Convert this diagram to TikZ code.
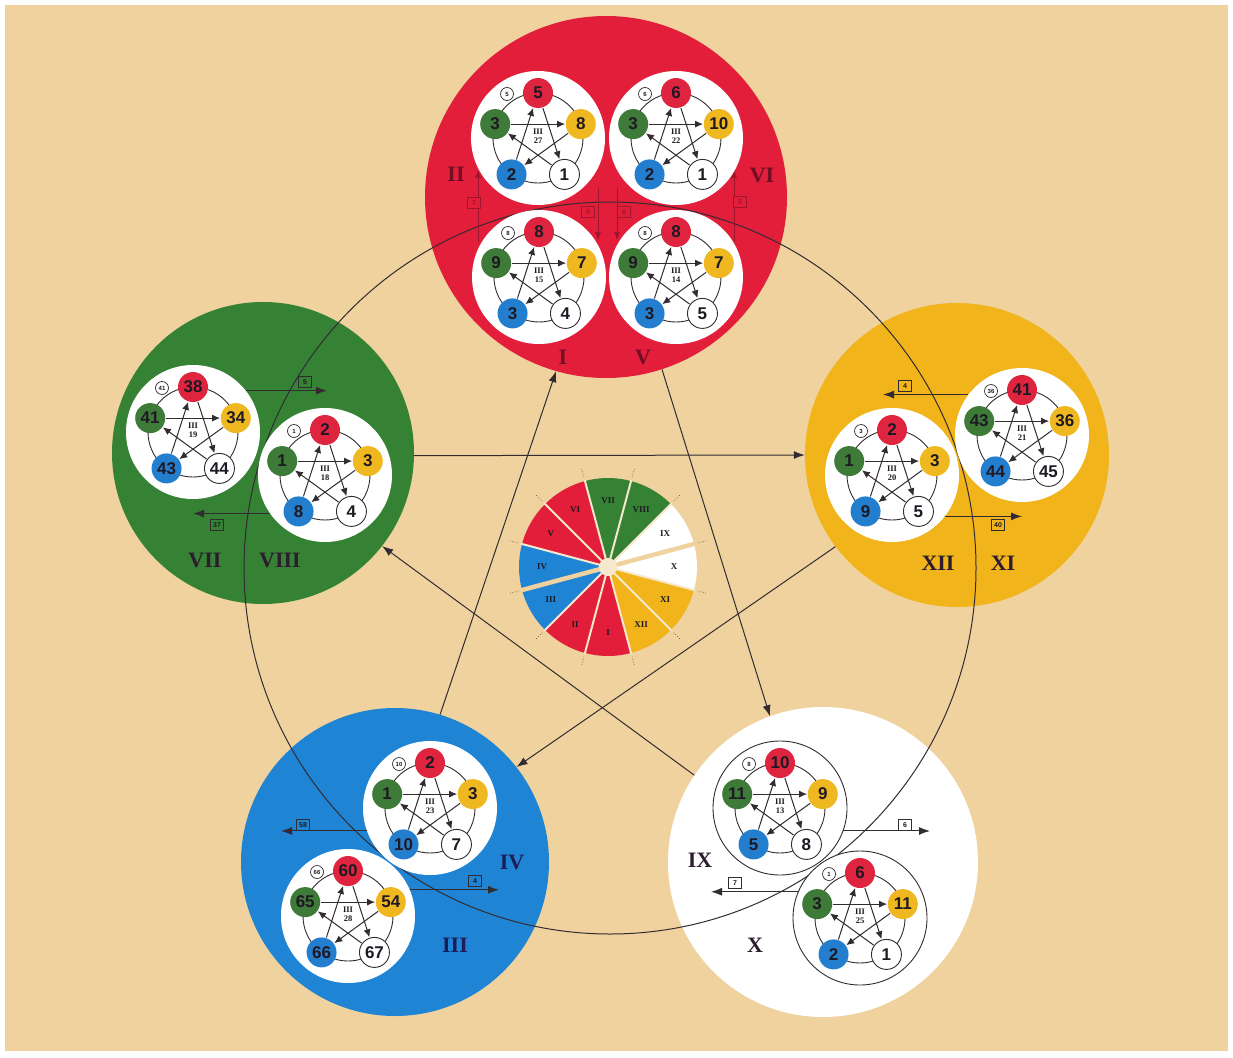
\documentclass[tikz,border=0pt]{standalone}
\usepackage{fontspec}
\setmainfont{Liberation Sans}
\newfontfamily\romanf{Liberation Serif}
\usetikzlibrary{arrows.meta,calc}

\definecolor{tanbg}{RGB}{239,210,158}
\definecolor{bigR}{RGB}{226,30,58}
\definecolor{bigG}{RGB}{54,130,52}
\definecolor{bigY}{RGB}{241,180,26}
\definecolor{bigB}{RGB}{32,132,212}
\definecolor{sR}{RGB}{222,36,62}
\definecolor{sG}{RGB}{62,122,56}
\definecolor{sY}{RGB}{240,184,32}
\definecolor{sB}{RGB}{36,126,206}
\definecolor{lineC}{RGB}{50,44,50}
\definecolor{txtC}{RGB}{30,25,35}
\definecolor{faintR}{RGB}{160,20,45}
\definecolor{romDark}{RGB}{45,28,45}
\definecolor{romRed}{RGB}{110,15,35}
\definecolor{romBlue}{RGB}{28,28,90}
\definecolor{pieSep}{RGB}{246,232,205}

\tikzset{
  disc/.style={circle, fill=white, minimum size=134pt, inner sep=0pt},
  ring/.style={draw=lineC, line width=0.9pt},
  pc/.style={circle, minimum size=30pt, inner sep=0pt, text=txtC,
    font=\fontsize{17}{17}\selectfont\bfseries},
  pcw/.style={pc, fill=white, draw=lineC, line width=0.9pt},
  sarr/.style={draw=lineC, line width=1pt, -{Latex[length=8pt,width=7pt]}, shorten >=0.5pt, shorten <=0.5pt},
  smallc/.style={circle, draw=lineC, line width=0.7pt, fill=white, minimum size=13pt,
    inner sep=0pt, text=txtC, font=\fontsize{6}{6}\selectfont\bfseries},
  midt/.style={font=\romanf\fontsize{8.5}{9}\selectfont\bfseries, align=center, text=txtC, inner sep=0pt},
  bigdisc/.style={circle, inner sep=0pt},
  bigarr/.style={draw=lineC, line width=1pt, -{Latex[length=11pt,width=8pt]}},
  boxlab/.style={draw=lineC, line width=0.6pt, font=\fontsize{7}{7}\selectfont\bfseries,
    text=txtC, minimum width=13pt, minimum height=11pt, inner sep=1pt},
  fboxlab/.style={boxlab, draw=faintR, text=faintR},
  faintarr/.style={draw=faintR, line width=0.6pt, -{Latex[length=8pt,width=6pt]}},
  romlab/.style={font=\romanf\bfseries\fontsize{22}{22}\selectfont, inner sep=0pt},
  pielab/.style={font=\romanf\bfseries\fontsize{9}{9}\selectfont, text=txtC, inner sep=0pt},
}

\newcommand{\subdiag}[9]{%
\begin{scope}[shift={(#2)}]
 \node[disc] (#1) at (0,0) {};
 \draw[ring] (0,0) circle (45);
 \node[pc,fill=sR] (#1r) at (-90:45) {#3};
 \node[pc,fill=sY] (#1y) at (-18:45) {#5};
 \node[pcw] (#1w) at (54:45) {#7};
 \node[pc,fill=sB] (#1b) at (126:45) {#6};
 \node[pc,fill=sG] (#1g) at (198:45) {#4};
 \draw[sarr] (#1g) -- (#1y);
 \draw[sarr] (#1y) -- (#1b);
 \draw[sarr] (#1b) -- (#1r);
 \draw[sarr] (#1r) -- (#1w);
 \draw[sarr] (#1w) -- (#1g);
 \node[smallc] (#1s) at (-31,-44) {#8};
 \node[midt] (#1t) at (0,-2) {III\\#9};
\end{scope}}

\begin{document}
\begin{tikzpicture}[x=1pt,y=-1pt]
\useasboundingbox (0,0) rectangle (1233,1057);
\fill[white] (0,0) rectangle (1233,1057);
\fill[tanbg] (5,5) rectangle (1228,1051);

% big discs
\node[bigdisc, fill=bigR, minimum size=362pt] (cirR) at (606,197) {};
\node[bigdisc, fill=bigG, minimum size=302pt] (cirG) at (263,453) {};
\node[bigdisc, fill=bigY, minimum size=304pt] (cirY) at (957,455) {};
\node[bigdisc, fill=bigB, minimum size=308pt] (cirB) at (395,862) {};
\node[bigdisc, fill=white, minimum size=310pt] (cirW) at (823,862) {};

% orbit circle
\node[circle, draw=lineC, line width=1pt, minimum size=732pt, inner sep=0pt] (orbit) at (610,568) {};

% pentagram connectors
\draw[bigarr] (cirB.73) -- (cirR.254);
\draw[bigarr] (cirR.288) -- (cirW.110);
\draw[bigarr] (cirW.146) -- (cirG.322);
\draw[bigarr] (cirG.359) -- (cirY.180);
\draw[bigarr] (cirY.217) -- (cirB.38);

% faint marks in red disc
\coordinate (rfA) at (478,170);
\coordinate (rfA0) at (478,242);
\draw[faintarr] (rfA0) -- (rfA);
\coordinate (rfB) at (734,170);
\coordinate (rfB0) at (734,242);
\draw[faintarr] (rfB0) -- (rfB);
\coordinate (rfC0) at (598,188);
\coordinate (rfC) at (598,240);
\draw[faintarr] (rfC0) -- (rfC);
\coordinate (rfD0) at (617,188);
\coordinate (rfD) at (617,240);
\draw[faintarr] (rfD0) -- (rfD);
\node[fboxlab, fill=bigR] (rfbA) at (474,203) {7};
\node[fboxlab, fill=bigR] (rfbB) at (740,202) {5};
\node[fboxlab, fill=bigR] (rfbC) at (588,212) {5};
\node[fboxlab, fill=bigR] (rfbD) at (624,212) {6};

% inner diagrams
\subdiag{rTL}{538,138}{5}{3}{8}{2}{1}{5}{27}
\subdiag{rTR}{676,138}{6}{3}{10}{2}{1}{6}{22}
\subdiag{rBL}{539,277}{8}{9}{7}{3}{4}{8}{15}
\subdiag{rBR}{676,277}{8}{9}{7}{3}{5}{8}{14}
\subdiag{gUL}{193,432}{38}{41}{34}{43}{44}{41}{19}
\subdiag{gR}{325,475}{2}{1}{3}{8}{4}{1}{18}
\subdiag{yL}{892,475}{2}{1}{3}{9}{5}{3}{20}
\subdiag{yUR}{1022,435}{41}{43}{36}{44}{45}{36}{21}
\subdiag{bU}{430,808}{2}{1}{3}{10}{7}{10}{23}
\subdiag{bL}{348,916}{60}{65}{54}{66}{67}{66}{28}
\subdiag{wU}{780,808}{10}{11}{9}{5}{8}{8}{13}
\subdiag{wL}{860,918}{6}{3}{11}{2}{1}{1}{25}
\draw[lineC, line width=0.9pt] (wU.center) circle (67);
\draw[lineC, line width=0.9pt] (wL.center) circle (67);

% small labelled arrows (horizontal)
\coordinate (gA1) at (327,391);
\draw[bigarr] (gUL.38) -- (gA1 |- gUL.38);
\node[boxlab] (gBx1) at (305,382) {5};
\coordinate (gA2) at (193,515);
\draw[bigarr] (gR.215) -- (gA2 |- gR.215);
\node[boxlab] (gBx2) at (217,525) {37};
\coordinate (yA1) at (883,392);
\draw[bigarr] (yUR.143) -- (yA1 |- yUR.143);
\node[boxlab] (yBx1) at (905,386) {4};
\coordinate (yA2) at (1022,517);
\draw[bigarr] (yL.322) -- (yA2 |- yL.322);
\node[boxlab] (yBx2) at (998,525) {40};
\coordinate (bA1) at (281,832);
\draw[bigarr] (bU.200) -- (bA1 |- bU.200);
\node[boxlab] (bBx1) at (303,825) {58};
\coordinate (bA2) at (499,887);
\draw[bigarr] (bL.23) -- (bA2 |- bL.23);
\node[boxlab] (bBx2) at (475,881) {4};
\coordinate (wA1) at (930,832);
\draw[bigarr] (wU.340) -- (wA1 |- wU.340);
\node[boxlab] (wBx1) at (905,825) {6};
\coordinate (wA2) at (711,890);
\draw[bigarr] (wL.157) -- (wA2 |- wL.157);
\node[boxlab] (wBx2) at (735,883) {7};

% roman labels
\node[romlab, text=romRed] (lII) at (456,174) {II};
\node[romlab, text=romRed] (lVI) at (762,175) {VI};
\node[romlab, text=romRed] (lI) at (563,357) {I};
\node[romlab, text=romRed] (lV) at (643,357) {V};
\node[romlab, text=romDark] (lVII) at (205,560) {VII};
\node[romlab, text=romDark] (lVIII) at (280,560) {VIII};
\node[romlab, text=romDark] (lXII) at (938,563) {XII};
\node[romlab, text=romDark] (lXI) at (1003,563) {XI};
\node[romlab, text=romBlue] (lIV) at (512,862) {IV};
\node[romlab, text=romBlue] (lIII) at (455,945) {III};
\node[romlab, text=romDark] (lIX) at (700,860) {IX};
\node[romlab, text=romDark] (lX) at (755,945) {X};

% central pie
\coordinate (pc) at (608,567);
\foreach \a/\c/\t in {90/bigG/VII, 60/bigG/VIII, 30/white/IX, 0/white/X, -30/bigY/XI, -60/bigY/XII, -90/bigR/I, -120/bigR/II, -150/bigB/III, 180/bigB/IV, 150/bigR/V, 120/bigR/VI} {
  \fill[\c] (pc) -- ($(pc)+({-\a-15}:89)$) arc[start angle={-\a-15}, end angle={-\a+15}, radius=89] -- cycle;
}
\foreach \b in {45,75,105,135,165,225,255,285,315,345} {
  \draw[pieSep, line width=2pt] (pc) -- ($(pc)+({-\b}:90)$);
}
\draw[tanbg, line width=4.5pt] (pc) -- ($(pc)+(-15:91)$);
\draw[tanbg, line width=4.5pt] (pc) -- ($(pc)+(-195:91)$);
\fill[pieSep] (pc) circle (9);
\foreach \b in {15,45,...,345} {
  \draw[lineC, line width=0.6pt, dotted] ($(pc)+({-\b}:93)$) -- ($(pc)+({-\b}:103)$);
}
\foreach \a/\t in {90/VII, 60/VIII, 30/IX, 0/X, -30/XI, -60/XII, -90/I, -120/II, -150/III, 180/IV, 150/V, 120/VI} {
  \node[pielab] (pie\t) at ($(pc)+({-\a}:66)$) {\t};
}
\end{tikzpicture}
\end{document}
